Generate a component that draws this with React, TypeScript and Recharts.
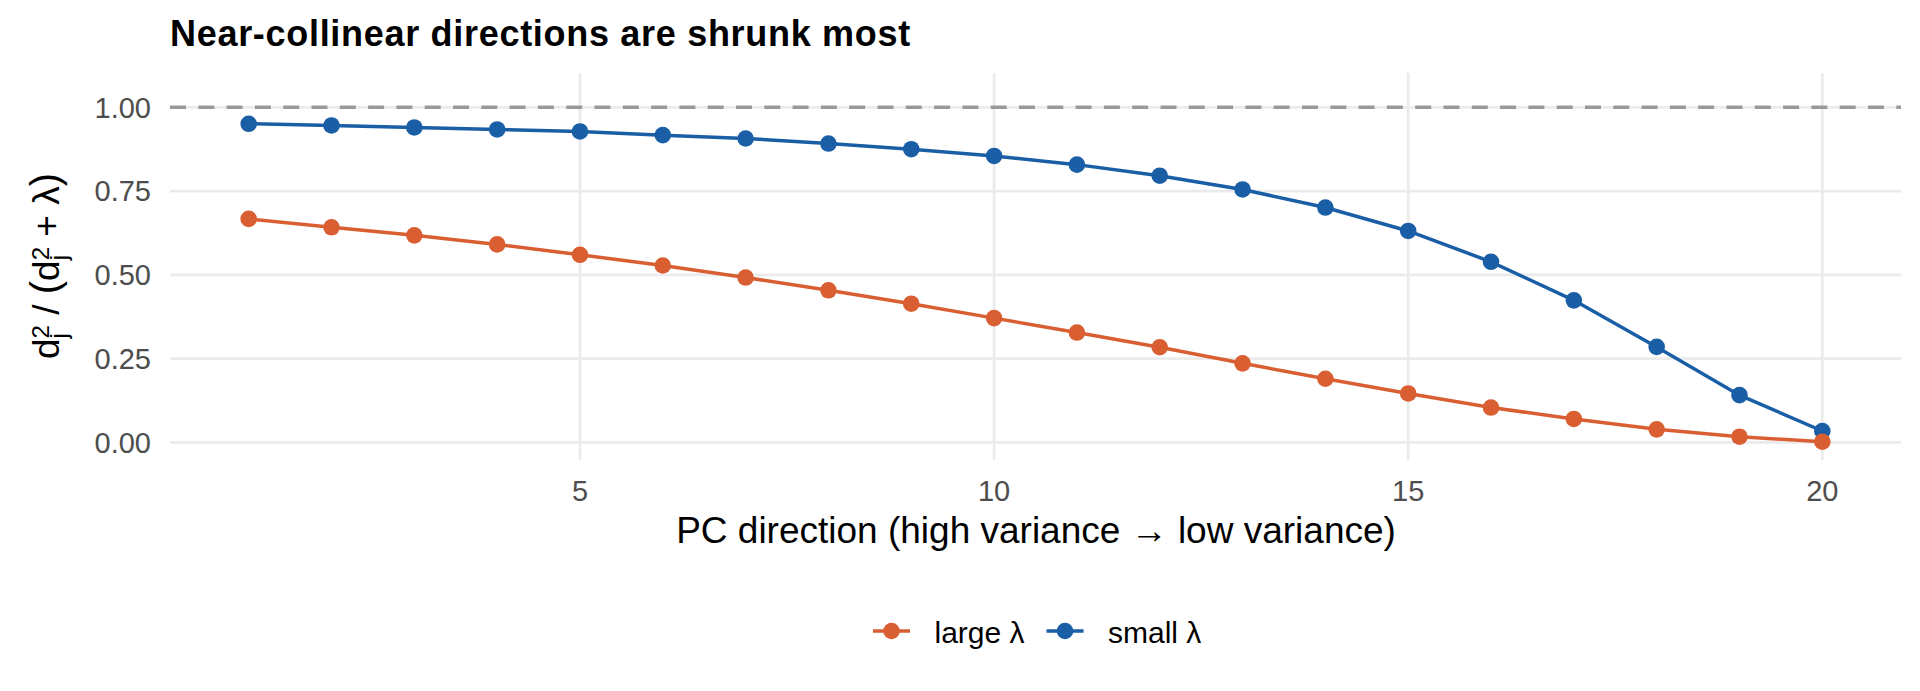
import React from 'react'
import {
  LineChart,
  Line,
  XAxis,
  YAxis,
  CartesianGrid,
  ReferenceLine,
} from 'recharts'

const pcDirections = [1, 2, 3, 4, 5, 6, 7, 8, 9, 10, 11, 12, 13, 14, 15, 16, 17, 18, 19, 20]
const largeLambda = [
  0.667, 0.642, 0.618, 0.591, 0.56, 0.528, 0.492, 0.454, 0.414, 0.371,
  0.328, 0.284, 0.236, 0.19, 0.146, 0.104, 0.07, 0.039, 0.017, 0.002,
]
const smallLambda = [
  0.951, 0.946, 0.94, 0.934, 0.928, 0.917, 0.907, 0.892, 0.875, 0.855,
  0.829, 0.796, 0.755, 0.701, 0.631, 0.539, 0.424, 0.285, 0.141, 0.034,
]
const xTicks = [5, 10, 15, 20]
const yTicks = [0, 0.25, 0.5, 0.75, 1]
const seriesNames = ['large λ', 'small λ']
const seriesColors = ['#D95F32', '#1A5EA6']

const data = pcDirections.map((pc, i) => ({
  pc,
  large: largeLambda[i],
  small: smallLambda[i],
}))

const FONT = '"Liberation Sans", Arial, sans-serif'

export default function App() {
  const tickStyle = { fill: '#4D4D4D', fontSize: 29, fontFamily: FONT }

  return (
    <div style={{ position: 'absolute', left: 0, top: 0, width: 1920, height: 691, background: '#fff' }}>
      <LineChart
        width={1920}
        height={691}
        data={data}
        margin={{ top: 73, right: 19, bottom: 201, left: 90 }}
      >
        {/* syncWithTicks: grid only on the major ticks, no frame at the panel edges */}
        <CartesianGrid stroke="#EBEBEB" strokeWidth={2.7} syncWithTicks />
        <XAxis
          dataKey="pc"
          type="number"
          domain={[0.05, 20.95]}
          ticks={xTicks}
          axisLine={false}
          tickLine={false}
          tickSize={0}
          tickMargin={20}
          height={30}
          tick={tickStyle}
        />
        <YAxis
          type="number"
          domain={[-0.0525, 1.1025]}
          ticks={yTicks}
          tickFormatter={(v: number) => v.toFixed(2)}
          axisLine={false}
          tickLine={false}
          tickSize={0}
          tickMargin={19}
          width={80}
          tick={tickStyle}
        />
        <ReferenceLine y={1} stroke="#999999" strokeWidth={3.5} strokeDasharray="16 12.3" />
        <Line
          dataKey="small"
          name={seriesNames[1]}
          type="linear"
          stroke={seriesColors[1]}
          strokeWidth={3.5}
          dot={{ r: 8.3, fill: seriesColors[1], stroke: 'none', strokeWidth: 0 }}
          activeDot={false}
          isAnimationActive={false}
        />
        <Line
          dataKey="large"
          name={seriesNames[0]}
          type="linear"
          stroke={seriesColors[0]}
          strokeWidth={3.5}
          dot={{ r: 8.3, fill: seriesColors[0], stroke: 'none', strokeWidth: 0 }}
          activeDot={false}
          isAnimationActive={false}
        />
      </LineChart>

      <svg
        width={1920}
        height={691}
        style={{ position: 'absolute', left: 0, top: 0, pointerEvents: 'none' }}
        fontFamily={FONT}
      >
        <text x={170} y={46} fontSize={36} fontWeight="bold" letterSpacing={0.7} fill="#000">
          Near-collinear directions are shrunk most
        </text>

        <text x={1036} y={543} fontSize={37} fill="#000" textAnchor="middle">
          PC direction (high variance → low variance)
        </text>

        <text transform="translate(59,266) rotate(-90)" textAnchor="middle" fill="#000" fontSize={37}>
          <tspan>d</tspan>
          <tspan fontSize={24} dy={-10}>2</tspan>
          <tspan fontSize={24} dx={-13.3} dy={18}>j</tspan>
          <tspan dx={8} dy={-8}> / </tspan>
          <tspan fontSize={40}>(</tspan>
          <tspan>d</tspan>
          <tspan fontSize={24} dy={-10}>2</tspan>
          <tspan fontSize={24} dx={-13.3} dy={18}>j</tspan>
          <tspan dx={8} dy={-8}> + λ</tspan>
          <tspan fontSize={40}>)</tspan>
        </text>

        {seriesNames.map((name, i) => {
          const cx = i === 0 ? 891.5 : 1065
          return (
            <g key={name}>
              <line x1={cx - 18.5} x2={cx + 18.5} y1={631} y2={631} stroke={seriesColors[i]} strokeWidth={3.5} />
              <circle cx={cx} cy={631} r={8.3} fill={seriesColors[i]} />
              <text x={cx + 43} y={643} fontSize={30} fill="#000">
                {name}
              </text>
            </g>
          )
        })}
      </svg>
    </div>
  )
}
